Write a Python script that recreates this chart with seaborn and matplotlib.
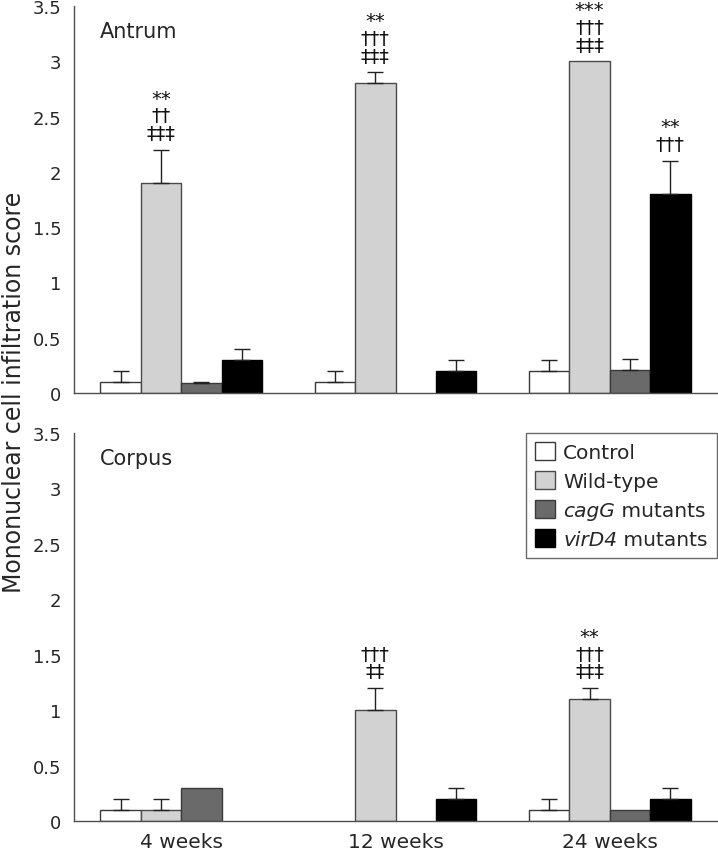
import matplotlib
matplotlib.use("Agg")
import matplotlib.pyplot as plt
import matplotlib.transforms as mtransforms
import seaborn as sns
import pandas as pd
import numpy as np
from matplotlib.patches import Patch

# ---------------- data ----------------
timepoints = ["4 weeks", "12 weeks", "24 weeks"]
groups = ["Control", "Wild-type", "cagG mutants", "virD4 mutants"]
# legend labels: (italic part, upright part)
legend_parts = [("", "Control"), ("", "Wild-type"), ("cagG", " mutants"), ("virD4", " mutants")]

# Antrum: mean values per group across timepoints
antrum_control = [0.1, 0.1, 0.2]
antrum_wildtype = [1.9, 2.8, 3.0]
antrum_cagg = [0.09, 0.0, 0.21]
antrum_vird4 = [0.3, 0.2, 1.8]
antrum_control_err = [0.1, 0.1, 0.1]
antrum_wildtype_err = [0.3, 0.1, 0.0]
antrum_cagg_err = [0.01, 0.0, 0.1]
antrum_vird4_err = [0.1, 0.1, 0.3]

# Corpus
corpus_control = [0.1, 0.0, 0.1]
corpus_wildtype = [0.1, 1.0, 1.1]
corpus_cagg = [0.3, 0.0, 0.1]
corpus_vird4 = [0.0, 0.2, 0.2]
corpus_control_err = [0.1, 0.0, 0.1]
corpus_wildtype_err = [0.1, 0.2, 0.1]
corpus_cagg_err = [0.0, 0.0, 0.0]
corpus_vird4_err = [0.0, 0.1, 0.1]

# significance annotations: (group, timepoint index, text)
antrum_annot = [("Wild-type", 0, "**\n††\n‡‡‡"),
                ("Wild-type", 1, "**\n†††\n‡‡‡"),
                ("Wild-type", 2, "***\n†††\n‡‡‡"),
                ("virD4 mutants", 2, "**\n†††")]
corpus_annot = [("Wild-type", 1, "†††\n‡‡"),
                ("Wild-type", 2, "**\n†††\n‡‡‡")]

colors = ["#ffffff", "#d2d2d2", "#6a6a6a", "#000000"]
edgecolors = ["#3a3a3a", "#4a4a4a", "#3a3a3a", "#000000"]
yticks = [0, 0.5, 1, 1.5, 2, 2.5, 3, 3.5]
ytick_labels = ["0", "0.5", "1", "1.5", "2", "2.5", "3", "3.5"]


def make_df(vals, errs):
    rows = []
    for g, v, e in zip(groups, vals, errs):
        for t, vv, ee in zip(timepoints, v, e):
            rows.append({"time": t, "group": g, "score": vv, "err": ee})
    return pd.DataFrame(rows)


antrum_df = make_df([antrum_control, antrum_wildtype, antrum_cagg, antrum_vird4],
                    [antrum_control_err, antrum_wildtype_err, antrum_cagg_err, antrum_vird4_err])
corpus_df = make_df([corpus_control, corpus_wildtype, corpus_cagg, corpus_vird4],
                    [corpus_control_err, corpus_wildtype_err, corpus_cagg_err, corpus_vird4_err])

sns.set_style("white")
plt.rcParams["font.family"] = ["DejaVu Sans"]
FS_Y = 13
FS_X = 14.5
FS_T = 15
FS_L = 14.5
FS_YL = 17
axis_col = "#505050"

fig = plt.figure(figsize=(7.18, 8.53), dpi=100)
ax_top = fig.add_axes([74 / 718, 1 - 394 / 853, 643 / 718, 387 / 853])
ax_bot = fig.add_axes([74 / 718, 1 - 822 / 853, 643 / 718, 388 / 853])


def draw(ax, df, annots, title, show_xlabels):
    sns.barplot(data=df, x="time", y="score", hue="group", order=timepoints,
                hue_order=groups, palette=colors, width=0.753, gap=0,
                errorbar=None, legend=False, ax=ax, linewidth=1.0,
                edgecolor="#3a3a3a", saturation=1)
    bar_conts = list(ax.containers)[:len(groups)]
    for i, cont in enumerate(bar_conts):
        sub = df[df["group"] == groups[i]].set_index("time").loc[timepoints]
        for bar, val, err in zip(cont.patches, sub["score"], sub["err"]):
            bar.set_edgecolor(edgecolors[i])
            if val <= 0:
                bar.set_visible(False)
                continue
            xc = bar.get_x() + bar.get_width() / 2
            if err > 0:
                ax.errorbar([xc], [val], yerr=[[0], [err]], fmt="none",
                            ecolor="#222222", elinewidth=1.0, capsize=6,
                            capthick=1.0, zorder=1)
    for g, ti, txt in annots:
        gi = groups.index(g)
        bar = bar_conts[gi].patches[ti]
        sub = df[(df["group"] == g) & (df["time"] == timepoints[ti])].iloc[0]
        top = sub["score"] + sub["err"]
        ax.text(bar.get_x() + bar.get_width() / 2, top + 0.06, txt,
                ha="center", va="bottom", fontsize=14, linespacing=0.92,
                color="#111111")
    ax.set_xlim(-0.5, 2.5)
    ax.set_ylim(0, 3.5)
    ax.set_yticks(yticks)
    ax.set_yticklabels(ytick_labels, fontsize=FS_Y)
    ax.set_xticks([0, 1, 2])
    if show_xlabels:
        ax.set_xticklabels(timepoints, fontsize=FS_X)
    else:
        ax.set_xticklabels([])
    ax.set_xticks([0.5, 1.5, 2.5], minor=True)
    ax.tick_params(axis="x", which="major", length=0, pad=8)
    ax.tick_params(axis="x", which="minor", direction="in", length=10,
                   width=1, color=axis_col)
    ax.tick_params(axis="y", direction="out", length=6, width=1,
                   color=axis_col, pad=3)
    ax.set_xlabel("")
    ax.set_ylabel("")
    for s in ["top", "right"]:
        ax.spines[s].set_visible(False)
    for s in ["left", "bottom"]:
        ax.spines[s].set_color(axis_col)
        ax.spines[s].set_linewidth(1.0)
    ax.text(0.04, 0.935, title, transform=ax.transAxes, fontsize=FS_T,
            ha="left", va="center")
    ax.set_facecolor("white")


draw(ax_top, antrum_df, antrum_annot, "Antrum", False)
draw(ax_bot, corpus_df, corpus_annot, "Corpus", True)

handles = [Patch(facecolor=c, edgecolor=e, linewidth=1.0)
           for c, e in zip(colors, edgecolors)]
leg = ax_bot.legend(handles, [a + b for a, b in legend_parts], loc="upper right",
                    bbox_to_anchor=(1.0, 1.0), fontsize=FS_L, frameon=True,
                    fancybox=False, edgecolor="#444444", handlelength=1.0,
                    handleheight=1.0, handletextpad=0.4, labelspacing=0.45,
                    borderpad=0.45, borderaxespad=0.0)
leg.get_frame().set_linewidth(1.0)

# render italic portions of legend labels (replace the plain label in place)
fig.canvas.draw()
renderer = fig.canvas.get_renderer()
ident = mtransforms.IdentityTransform()
for txt, (it_part, rest) in zip(leg.get_texts(), legend_parts):
    if not it_part:
        continue
    bb = txt.get_window_extent(renderer)
    txt.set_visible(False)
    a1 = fig.text(bb.x0, bb.y0, it_part, transform=ident, ha="left",
                  va="bottom", fontsize=FS_L, fontstyle="italic", zorder=10)
    ax_bot.annotate(rest, xy=(1, 0), xycoords=a1, ha="left", va="bottom",
                    fontsize=FS_L, zorder=10)

fig.text(14 / 718, 1 - 392 / 853, "Mononuclear cell infiltration score", rotation=90,
         ha="center", va="center", fontsize=FS_YL)

fig.savefig("out.png", dpi=100, facecolor="white")
